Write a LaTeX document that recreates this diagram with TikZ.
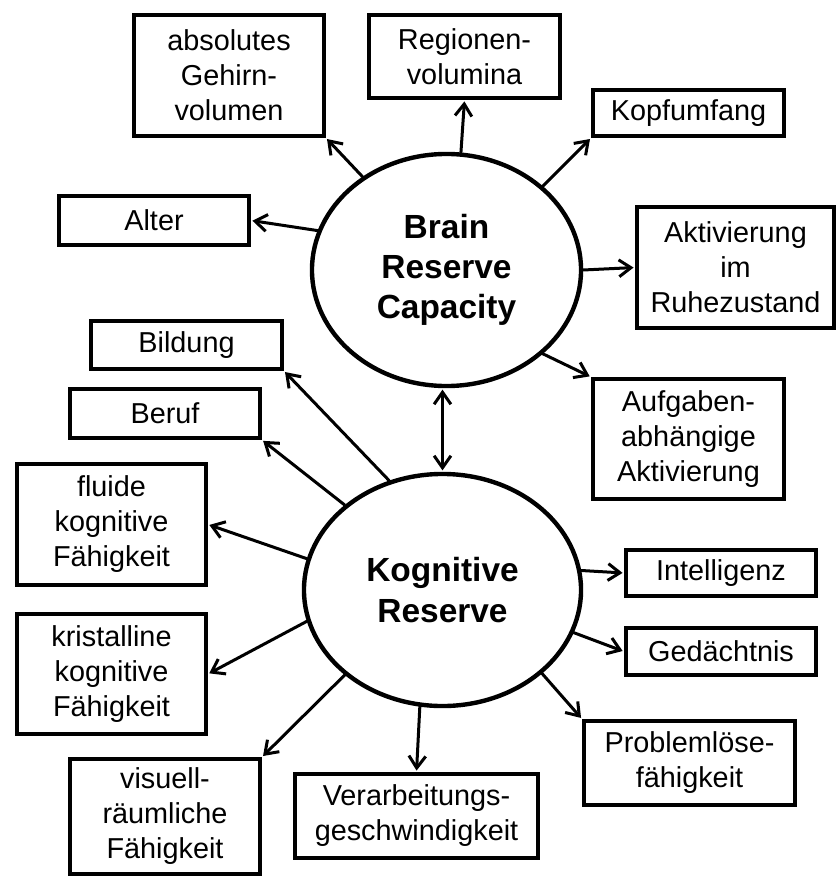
\documentclass[tikz,border=0pt]{standalone}
\usepackage{fontspec}
\setmainfont{Liberation Sans}
\usetikzlibrary{arrows.meta,shapes.geometric}

\begin{document}
\begin{tikzpicture}[x=0.025cm, y=-0.025cm,
    >={Straight Barb[length=0.3cm,width=0.42cm]},
    kasten/.style={draw, line width=0.1cm, align=center, inner sep=0pt,
        minimum width=4.75cm, font=\fontsize{20.5}{24.9}\selectfont},
    reserve/.style={draw, ellipse, line width=0.11cm, align=center, inner sep=0pt,
        minimum height=5.8cm, font=\fontsize{23.8}{28.5}\selectfont\bfseries},
    pfeil/.style={->, line width=0.075cm, line cap=round, shorten >=1pt}]
    \useasboundingbox (0,0) rectangle (839,879);

    % die beiden Reserven
    \node[reserve, minimum width=6.725cm] (brc) at (446.5,270) {Brain\\Reserve\\Capacity};
    \node[reserve, minimum width=6.925cm] (kr) at (442.5,590) {Kognitive\\Reserve};

    % Kästen um Brain Reserve Capacity
    \node[kasten, minimum height=3.025cm] (absolut) at (229,75.5) {absolutes\\Gehirn-\\volumen};
    \node[kasten, minimum width=4.775cm, minimum height=2.075cm] (region) at (464.5,56.5) {Regionen-\\volumina};
    \node[kasten, minimum width=4.775cm, minimum height=1.15cm] (kopf) at (688.5,113) {Kopfumfang};
    \node[kasten, minimum width=4.925cm, minimum height=3.025cm] (ruhe) at (735.5,267.5) {Aktivierung\\im\\Ruhezustand};
    \node[kasten, minimum width=4.775cm, minimum height=3.0cm] (aufgabe) at (688.5,439) {Aufgaben-\\abhängige\\Aktivierung};
    \node[kasten, minimum height=1.225cm] (alter) at (154,220.5) {Alter};

    % Kästen um Kognitive Reserve
    \node[kasten, minimum width=4.775cm, minimum height=1.2cm] (bildung) at (186.5,345) {Bildung};
    \node[kasten, minimum height=1.225cm] (beruf) at (165,413.5) {Beruf};
    \node[kasten, minimum width=4.725cm, minimum height=3.025cm] (fluid) at (111.5,524.5) {fluide\\kognitive\\Fähigkeit};
    \node[kasten, minimum width=4.725cm, minimum height=3.0cm] (kristall) at (111.5,674) {kristalline\\kognitive\\Fähigkeit};
    \node[kasten, minimum height=2.875cm] (visuell) at (165,816.5) {visuell-\\räumliche\\Fähigkeit};
    \node[kasten, minimum width=6.075cm, minimum height=2.1cm] (tempo) at (416.5,816) {Verarbeitungs-\\geschwindigkeit};
    \node[kasten, minimum height=1.15cm] (intelligenz) at (721,573) {Intelligenz};
    \node[kasten, minimum height=1.175cm] (gedaechtnis) at (721,651.5) {Gedächtnis};
    \node[kasten, minimum width=5.275cm, minimum height=2.1cm] (problem) at (689.5,763) {Problemlöse-\\fähigkeit};

    % Pfeile oben
    \draw[pfeil] (brc.132) -- (absolut.south east);
    \draw[pfeil] (brc.83) -- (region.south);
    \draw[pfeil] (brc.41) -- (kopf.south west);
    \draw[pfeil] (brc.east) -- (ruhe.west);
    \draw[pfeil] (brc.-41) -- (aufgabe.north west);
    \draw[pfeil] (brc.163) -- (alter.east);

    % Wechselwirkung
    \draw[pfeil, <->, shorten <=1pt] (kr.north |- brc.south) -- (kr.north);

    % Pfeile unten
    \draw[pfeil] (kr.116.6) -- (bildung.south east);
    \draw[pfeil] (kr.139.4) -- (beruf.south east);
    \draw[pfeil] (kr.167.6) -- (fluid.east);
    \draw[pfeil] (kr.193.5) -- (kristall.east);
    \draw[pfeil] (kr.221.3) -- (visuell.north east);
    \draw[pfeil] (kr.259.4) -- (tempo.north);
    \draw[pfeil] (kr.8) -- (intelligenz.west);
    \draw[pfeil] (kr.-18.7) -- (gedaechtnis.west);
    \draw[pfeil] (kr.-40.5) -- (problem.north west);
\end{tikzpicture}
\end{document}
